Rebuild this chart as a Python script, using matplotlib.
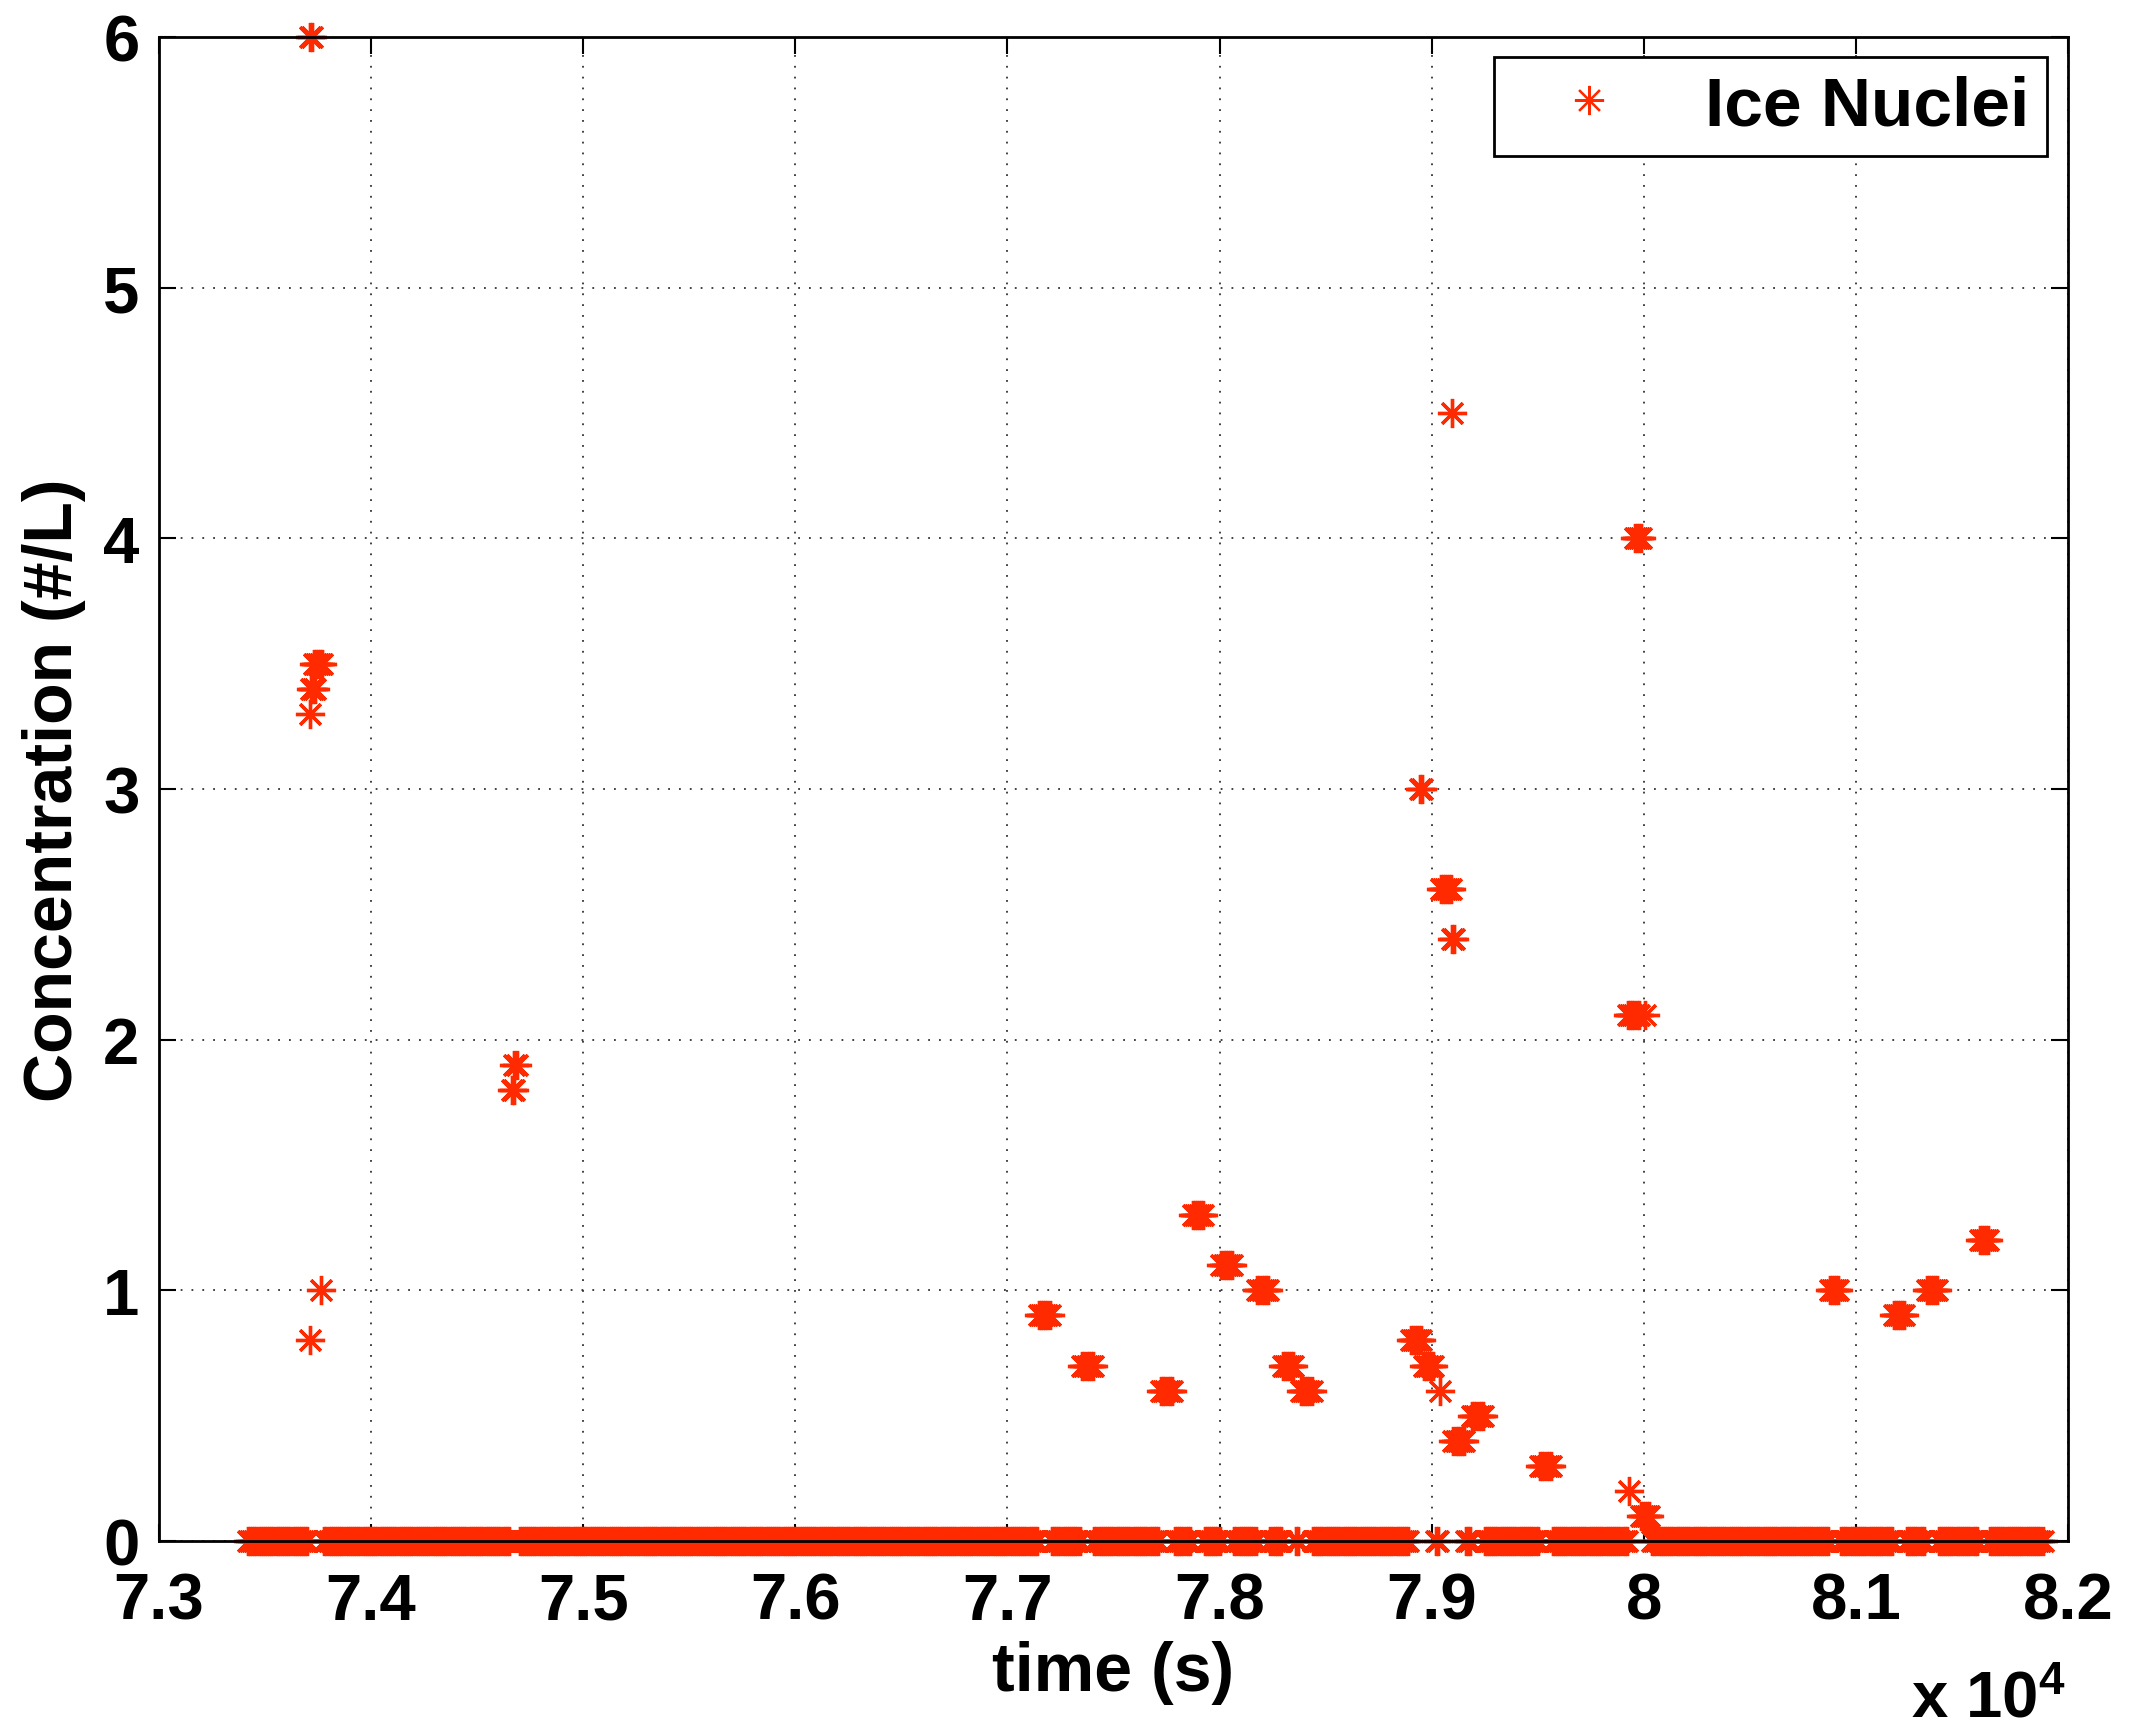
import numpy as np
import matplotlib
matplotlib.use("Agg")
import matplotlib.pyplot as plt
from matplotlib.ticker import FixedLocator, FuncFormatter

# sampled concentration, read off the reference (time in s, #/L)
# each burst: centre time, value, number of 10 s samples
burst_time = [73718, 73750, 73725, 73712, 73763, 73712, 74681, 74668,
              77174, 77378, 77750, 77899, 78034, 78203, 78322, 78409,
              78927, 78950, 78985, 79040, 79068, 79094, 79100, 79128,
              79216, 79537, 79929, 79951, 80005, 79973, 80006,
              80897, 81204, 81359, 81604]
burst_value = [6.0, 3.5, 3.4, 3.3, 1.0, 0.8, 1.9, 1.8,
               0.9, 0.7, 0.6, 1.3, 1.1, 1.0, 0.7, 0.6,
               0.8, 3.0, 0.7, 0.6, 2.6, 4.5, 2.4, 0.4,
               0.5, 0.3, 0.2, 2.1, 2.1, 4.0, 0.1,
               1.0, 0.9, 1.0, 1.2]
burst_count = [2, 5, 3, 1, 1, 1, 2, 2,
               6, 6, 6, 6, 6, 6, 6, 6,
               6, 2, 5, 1, 6, 1, 2, 6,
               6, 6, 1, 6, 1, 4, 5,
               5, 6, 6, 5]
zero_start, zero_end, step = 73420, 81880, 10

xticks = [73000, 74000, 75000, 76000, 77000, 78000, 79000, 80000, 81000, 82000]
yticks = [0, 1, 2, 3, 4, 5, 6]

red = "#ff2a00"
plt.rcParams['font.family'] = ['Liberation Sans', 'DejaVu Sans']
plt.rcParams['font.weight'] = 'bold'
plt.rcParams['mathtext.default'] = 'regular'

# build the series
t_all, v_all = [], []
busy = []
for tc, v, n in zip(burst_time, burst_value, burst_count):
    ts = tc + step * (np.arange(n) - (n - 1) / 2.0)
    t_all.extend(ts)
    v_all.extend([v] * n)
    busy.append((ts.min() - step / 2, ts.max() + step / 2))
grid = np.arange(zero_start, zero_end + 1, step)
keep = np.ones(len(grid), bool)
for a, b in busy:
    keep &= ~((grid >= a) & (grid <= b))
t_all = np.concatenate([grid[keep], np.array(t_all)])
v_all = np.concatenate([np.zeros(keep.sum()), np.array(v_all)])

fig = plt.figure(figsize=(21.3, 17.33), dpi=100)
ax = fig.add_axes([0.0746, 0.1102, 0.8963, 0.8679])

ast = (8, 2, 0)
ax.plot(t_all, v_all, linestyle='none', marker=ast, markersize=21,
        markeredgewidth=2.4, color=red, markeredgecolor=red, label='Ice Nuclei',
        clip_on=False, zorder=3)

ax.set_xlim(73000, 82000)
ax.set_ylim(0, 6)
ax.xaxis.set_major_locator(FixedLocator(xticks))
ax.yaxis.set_major_locator(FixedLocator(yticks))
ax.xaxis.set_major_formatter(FuncFormatter(lambda x, p: ('%g' % (x / 1e4))))
ax.tick_params(direction='in', length=12, width=1.5, top=True, right=True,
               labelsize=47)
ax.tick_params(axis='x', pad=22)
ax.tick_params(axis='y', pad=14)
for s in ax.spines.values():
    s.set_linewidth(2)
    s.set_zorder(4)
ax.grid(True, color='#333333', linestyle=(0, (1, 5)), linewidth=1.3)

ax.set_xlabel('time (s)', fontsize=49, fontweight='bold')
ax.xaxis.set_label_coords(0.5, -0.087)
ax.xaxis.label.set_va('center')
ax.set_ylabel('Concentration (#/L)', fontsize=49, fontweight='bold')
ax.yaxis.set_label_coords(-0.055, 0.5)
ax.yaxis.label.set_va('center')
fig.text(0.970, 0.001, 'x 10$^{4}$', fontsize=47, fontweight='bold', ha='right', va='bottom')

leg = ax.legend(loc='upper right', bbox_to_anchor=(0.989, 0.9867),
                fontsize=50, borderpad=0.25, handlelength=2.25,
                handletextpad=0.55, fancybox=False, framealpha=1, borderaxespad=0)
leg.get_frame().set_edgecolor('black')
leg.get_frame().set_linewidth(2)
for h in leg.legend_handles:
    h.set_markeredgewidth(1.6)

fig.savefig('out.png', dpi=100)
